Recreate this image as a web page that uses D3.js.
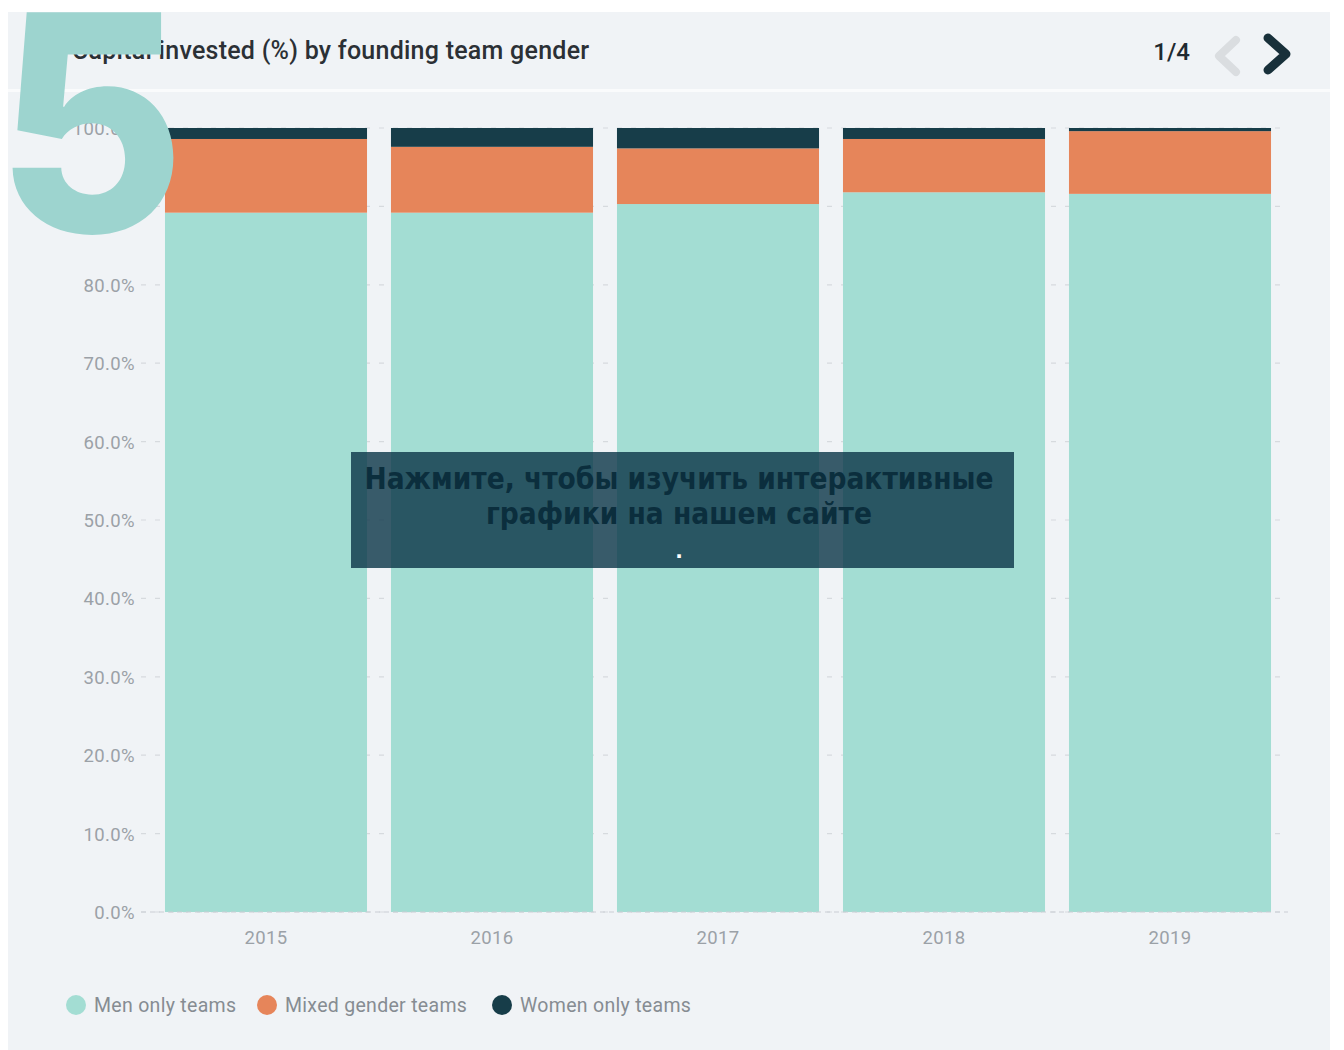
<!DOCTYPE html>
<html>
<head>
<meta charset="utf-8">
<script src="https://cdn.jsdelivr.net/npm/d3@7"></script>
<style>
  html, body { margin: 0; padding: 0; background: #ffffff; }
  svg { display: block; }
</style>
</head>
<body>
<svg id="chart" width="1344" height="1050"></svg>
<script>
// Share of capital invested by founding team gender, per year (percent)
const years = ["2015", "2016", "2017", "2018", "2019"];
const menOnly = [89.2, 89.2, 90.3, 91.8, 91.6];
const mixedGender = [9.4, 8.4, 7.1, 6.8, 8.0];
const womenOnly = [1.4, 2.4, 2.6, 1.4, 0.4];
const seriesNames = ["Men only teams", "Mixed gender teams", "Women only teams"];
const seriesColors = ["#a3ddd3", "#e6855a", "#173d49"];
const yTicks = [0, 10, 20, 30, 40, 50, 60, 70, 80, 90, 100];

const rows = years.map((y, i) => ({
  year: y,
  men: menOnly[i],
  mixed: mixedGender[i],
  women: womenOnly[i]
}));
const keys = ["men", "mixed", "women"];

const svg = d3.select("#chart");
const font = "Roboto, 'Open Sans', sans-serif";

// card background
svg.append("rect").attr("x", 8).attr("y", 12).attr("width", 1322).attr("height", 1038)
  .attr("fill", "#f0f3f6");
svg.append("rect").attr("x", 8).attr("y", 89).attr("width", 1322).attr("height", 3)
  .attr("fill", "#fafbfc");

// scales
const x = d3.scaleBand().domain(years).range([153, 1283])
  .paddingInner(0.106).paddingOuter(0.053);
const y = d3.scaleLinear().domain([0, 100]).range([912, 128]);

// dashed gridlines
svg.append("g").selectAll("line").data(yTicks).join("line")
  .attr("x1", 141).attr("x2", 1288)
  .attr("y1", d => y(d)).attr("y2", d => y(d))
  .attr("stroke", "#d6dade").attr("stroke-width", 1.2)
  .attr("stroke-dasharray", "5,9");

// y axis labels
const yAxis = d3.axisLeft(y).tickValues(yTicks)
  .tickFormat(d => d3.format(".1f")(d) + "%")
  .tickSize(0).tickPadding(0);
const gy = svg.append("g").attr("transform", "translate(135,0)").call(yAxis);
gy.select(".domain").remove();
gy.selectAll("text").attr("font-family", font).attr("font-size", 18.5)
  .attr("letter-spacing", 0.4)
  .attr("fill", "#9ba1a7").attr("dy", "0.35em");

// stacked bars
const stacked = d3.stack().keys(keys)(rows);
svg.append("g").selectAll("g").data(stacked).join("g")
  .attr("fill", (d, i) => seriesColors[i])
  .selectAll("rect").data(d => d).join("rect")
  .attr("x", d => x(d.data.year))
  .attr("width", x.bandwidth())
  .attr("y", d => y(d[1]))
  .attr("height", d => y(d[0]) - y(d[1]));

// baseline
svg.append("line").attr("x1", 141).attr("x2", 1288).attr("y1", y(0)).attr("y2", y(0))
  .attr("stroke", "#c9ced3").attr("stroke-width", 1.2).attr("stroke-dasharray", "5,4");

// x axis labels
const xAxis = d3.axisBottom(x).tickSize(0).tickPadding(0);
const gx = svg.append("g").attr("transform", `translate(0,${y(0)})`).call(xAxis);
gx.select(".domain").remove();
gx.selectAll("text").attr("font-family", font).attr("font-size", 18.5)
  .attr("letter-spacing", 0.3)
  .attr("fill", "#9ba1a7").attr("dy", "1.75em");

// legend
const legendX = [76, 267, 502];
const legend = svg.append("g").selectAll("g").data(seriesNames).join("g")
  .attr("transform", (d, i) => `translate(${legendX[i]},1005)`);
legend.append("circle").attr("r", 10).attr("fill", (d, i) => seriesColors[i]);
legend.append("text").attr("x", 18).attr("dy", "0.35em")
  .attr("font-family", font).attr("font-size", 19.5).attr("letter-spacing", 0.3)
  .attr("fill", "#868c92")
  .text(d => d);

// header
svg.append("text").attr("x", 72).attr("y", 59)
  .attr("font-family", font).attr("font-size", 25).attr("font-weight", 500)
  .attr("letter-spacing", 0.25)
  .attr("fill", "#2b3035").text("Capital invested (%) by founding team gender");
svg.append("text").attr("x", 1190).attr("y", 60).attr("text-anchor", "end")
  .attr("font-family", font).attr("font-size", 24).attr("font-weight", 500)
  .attr("fill", "#1f2a30").text("1/4");
svg.append("path").attr("d", "M1236,40 L1219,56 L1236,72")
  .attr("fill", "none").attr("stroke", "#dadde0").attr("stroke-width", 8)
  .attr("stroke-linecap", "round").attr("stroke-linejoin", "round");
svg.append("path").attr("d", "M1268,38 L1286,54 L1268,70")
  .attr("fill", "none").attr("stroke", "#18303a").attr("stroke-width", 9)
  .attr("stroke-linecap", "round").attr("stroke-linejoin", "round");

// large numeral badge
svg.append("text").attr("transform", "translate(-4,232) scale(0.96,1)")
  .attr("font-family", "Inter, 'Open Sans', sans-serif").attr("font-size", 302).attr("font-weight", 800)
  .attr("fill", "#9dd4cf").text("5");

// call-to-action panel
svg.append("rect").attr("x", 351).attr("y", 452).attr("width", 663).attr("height", 116)
  .attr("fill", "#0a3447").attr("fill-opacity", 0.8);
const cta = ["Нажмите, чтобы изучить интерактивные", "графики на нашем сайте"];
svg.append("g").selectAll("text").data(cta).join("text")
  .attr("x", 679).attr("y", (d, i) => 489 + i * 35).attr("text-anchor", "middle")
  .attr("font-family", "'DejaVu Sans Condensed', 'DejaVu Sans', sans-serif")
  .attr("font-stretch", "condensed").attr("font-size", 29.5)
  .attr("font-weight", 700).attr("fill", "#0b2e3d").text(d => d);
svg.append("text").attr("x", 679).attr("y", 558).attr("text-anchor", "middle")
  .attr("font-family", "'DejaVu Sans', sans-serif").attr("font-size", 20).attr("font-weight", 700)
  .attr("fill", "#ffffff").text(".");
</script>
</body>
</html>
